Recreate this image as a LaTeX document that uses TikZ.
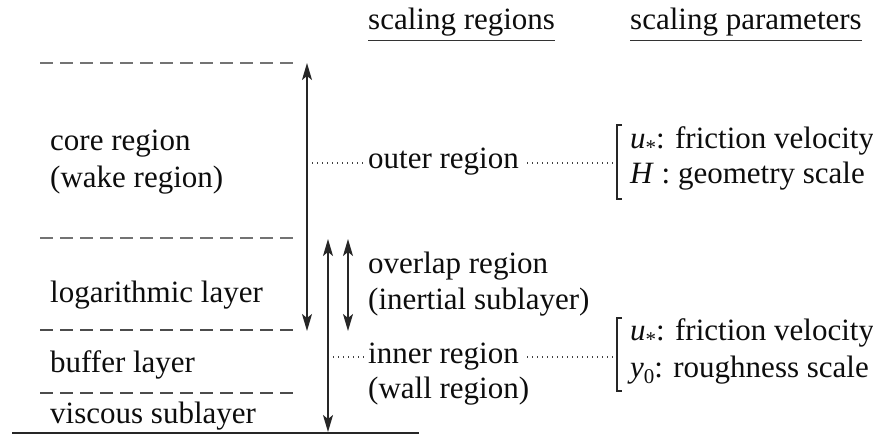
\documentclass[tikz,border=0pt]{standalone}
\usepackage{fontspec}
\setmainfont{Liberation Serif}
\usetikzlibrary{arrows.meta}
% small lowered index for the symbols u_* and y_0
\newcommand\lowidx[1]{\raisebox{-0.22em}{\fontsize{21}{21}\selectfont #1}}
\begin{document}
\begin{tikzpicture}[x=1pt,y=-1pt,
  lbl/.style={anchor=base west,inner sep=0pt,text=black!95,font=\fontsize{31}{37}\selectfont},
  layerline/.style={draw=black!70,dash pattern=on 13pt off 7pt,line width=1.6pt},
  ground/.style={draw=black!85,line width=2.2pt},
  span/.style={draw=black!85,line width=1.5pt,
    {Stealth[length=17pt,width=10pt,inset=4pt]}-{Stealth[length=17pt,width=10pt,inset=4pt]}},
  dots/.style={draw=black!75,dash pattern=on 1.4pt off 3.6pt,line width=1.3pt},
  brk/.style={draw=black!85,line width=1.5pt},
  uline/.style={draw=black!80,line width=1.5pt}]
\useasboundingbox (0,0) rectangle (873,436);

% layer boundaries
\coordinate (l1a) at (40,63);   \coordinate (l1b) at (297,63);
\coordinate (l2a) at (40,238);  \coordinate (l2b) at (297,238);
\coordinate (l3a) at (40,330);  \coordinate (l3b) at (297,330);
\coordinate (l4a) at (40,393);  \coordinate (l4b) at (297,393);
\coordinate (g1) at (12,433);   \coordinate (g2) at (419,433);
\draw[layerline,draw=black!55] (l1a) -- (l1b);
\draw[layerline,draw=black!55] (l2a) -- (l2b);
\draw[layerline] (l3a) -- (l3b);
\draw[layerline] (l4a) -- (l4b);
\draw[ground] (g1) -- (g2);

% layer names
\node[lbl] (core1) at (50,150) {core region};
\node[lbl] (core2) at (50,187) {(wake region)};
\node[lbl] (logl)  at (50,302) {logarithmic layer};
\node[lbl] (buff)  at (50,372) {buffer layer};
\node[lbl] (visc)  at (50,423) {viscous sublayer};

% extents of the scaling regions
\coordinate (a1t) at (307,63);  \coordinate (a1b) at (307,331);
\coordinate (a2t) at (328,239); \coordinate (a2b) at (328,432);
\coordinate (a3t) at (348,239); \coordinate (a3b) at (348,331);
\draw[span] (a1t) -- (a1b);
\draw[span] (a2t) -- (a2b);
\draw[span] (a3t) -- (a3b);

% column headings
\node[lbl] (hreg) at (368,30) {scaling regions};
\node[lbl] (hpar) at (630,30) {scaling parameters};
\draw[uline] ([yshift=-3.5pt]hreg.south west) -- ([yshift=-3.5pt]hreg.south east);
\draw[uline] ([yshift=-3.5pt]hpar.south west) -- ([yshift=-3.5pt]hpar.south east);

% scaling regions
\node[lbl] (outer) at (368,168) {outer region};
\node[lbl] (ovl1)  at (368,273) {overlap region};
\node[lbl] (ovl2)  at (368,309) {(inertial sublayer)};
\node[lbl] (inn1)  at (368,363) {inner region};
\node[lbl] (inn2)  at (368,398) {(wall region)};

% scaling parameters
\node[lbl] (p1a) at (630,148) {\textit{u}\lowidx{*}: friction velocity};
\node[lbl] (p1b) at (630,183) {\textit{H} : geometry scale};
\node[lbl] (p2a) at (630,340) {\textit{u}\lowidx{*}: friction velocity};
\node[lbl] (p2b) at (630,377) {\textit{y}\lowidx{0}: roughness scale};

% brackets
\coordinate (b1t) at (617,125); \coordinate (b1b) at (617,199);
\coordinate (b2t) at (617,318); \coordinate (b2b) at (617,391);
\draw[brk] ([xshift=5pt]b1t) -- (b1t) -- (b1b) -- ([xshift=5pt]b1b);
\draw[brk] ([xshift=5pt]b2t) -- (b2t) -- (b2b) -- ([xshift=5pt]b2b);

% dotted leaders
\coordinate (d1a) at (312,163); \coordinate (d1b) at (365,163);
\coordinate (d1c) at (527,163); \coordinate (d1d) at (613,163);
\coordinate (d2a) at (333,357); \coordinate (d2b) at (365,357);
\coordinate (d2c) at (527,357); \coordinate (d2d) at (613,357);
\draw[dots] (d1a) -- (d1b);
\draw[dots] (d1c) -- (d1d);
\draw[dots] (d2a) -- (d2b);
\draw[dots] (d2c) -- (d2d);
\end{tikzpicture}
\end{document}
